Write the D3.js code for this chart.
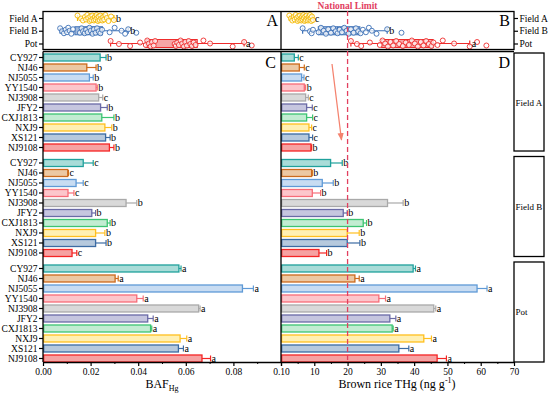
<!DOCTYPE html>
<html>
<head>
<meta charset="utf-8">
<script src="https://cdn.jsdelivr.net/npm/d3@7"></script>
<style>
  body { margin: 0; background: #fff; }
  svg text { font-family: "Liberation Serif", "Times New Roman", serif; }
</style>
</head>
<body>
<svg id="chart"></svg>
<script>
// cultivars and groups
var cultivars = ["CY927", "NJ46", "NJ5055", "YY1540", "NJ3908", "JFY2", "CXJ1813", "NXJ9", "XS121", "NJ9108"];
var groups = ["Field A", "Field B", "Pot"];

// BAF means / sd / letters (panel C)
var bafFieldA = [0.0240, 0.0184, 0.0195, 0.0223, 0.0234, 0.0242, 0.0247, 0.0260, 0.0263, 0.0279];
var bafFieldAErr = [0.0025, 0.0039, 0.0016, 0.0005, 0.0017, 0.0028, 0.0051, 0.0029, 0.0019, 0.0019];
var bafFieldALet = ["b", "b", "b", "b", "c", "b", "b", "b", "b", "b"];
var bafFieldB = [0.0169, 0.0104, 0.0139, 0.0105, 0.0349, 0.0205, 0.0270, 0.0221, 0.0221, 0.0122];
var bafFieldBErr = [0.0042, 0.0003, 0.0030, 0.0025, 0.0045, 0.0016, 0.0012, 0.0039, 0.0044, 0.0020];
var bafFieldBLet = ["c", "c", "c", "c", "b", "b", "b", "b", "b", "c"];
var bafPot = [0.0571, 0.0303, 0.0838, 0.0394, 0.0654, 0.0440, 0.0452, 0.0576, 0.0569, 0.0668];
var bafPotErr = [0.0009, 0.0013, 0.0046, 0.0027, 0.0006, 0.0023, 0.0005, 0.0028, 0.0021, 0.0036];
var bafPotLet = ["a", "a", "a", "a", "a", "a", "a", "a", "a", "a"];

// brown rice THg means / sd / letters (panel D)
var thgFieldA = [4.0, 5.5, 6.2, 7.0, 7.4, 7.7, 7.7, 8.4, 8.4, 9.0];
var thgFieldAErr = [1.2, 1.5, 0.7, 0.4, 0.8, 1.7, 1.8, 0.8, 1.1, 0.2];
var thgFieldALet = ["c", "c", "c", "b", "c", "c", "c", "c", "c", "b"];
var thgFieldB = [14.9, 9.2, 12.4, 9.4, 32.0, 18.7, 24.7, 19.9, 19.9, 11.4];
var thgFieldBErr = [3.5, 0.2, 3.3, 2.5, 4.7, 1.2, 1.0, 3.6, 3.8, 2.3];
var thgFieldBLet = ["b", "b", "b", "b", "b", "b", "b", "b", "b", "b"];
var thgPot = [39.7, 22.2, 58.9, 29.4, 45.9, 32.7, 33.4, 42.9, 35.4, 46.9];
var thgPotErr = [0.7, 1.3, 3.0, 2.0, 0.6, 1.8, 0.3, 2.3, 3.0, 2.8];
var thgPotLet = ["a", "a", "a", "a", "a", "a", "a", "a", "a", "a"];

// box plot stats [min, q1, median, q3, max] (panels A and B)
var bafBoxFieldA = [0.0145, 0.0192, 0.0226, 0.0255, 0.0298];
var bafBoxFieldB = [0.0072, 0.0134, 0.0200, 0.0250, 0.0358];
var bafBoxPot = [0.0284, 0.0433, 0.0560, 0.0648, 0.0845];
var thgBoxFieldA = [2.5, 4.8, 6.5, 8.0, 9.6];
var thgBoxFieldB = [6.5, 11.2, 17.0, 23.7, 31.9];
var thgBoxPot = [21.0, 30.2, 38.0, 45.7, 56.7];
var bafBoxLet = ["b", "b", "a"];
var thgBoxLet = ["c", "b", "a"];

// individual samples
var bafPtsFieldA = [0.0145, 0.0160, 0.0168, 0.0176, 0.0181, 0.0186, 0.0190, 0.0196, 0.0199, 0.0203, 0.0207, 0.0211, 0.0214, 0.0218, 0.0221, 0.0225, 0.0228, 0.0231, 0.0234, 0.0238, 0.0241, 0.0245, 0.0249, 0.0253, 0.0257, 0.0262, 0.0268, 0.0275, 0.0286, 0.0298];
var bafPtsFieldB = [0.0072, 0.0080, 0.0088, 0.0095, 0.0101, 0.0106, 0.0112, 0.0119, 0.0126, 0.0155, 0.0162, 0.0168, 0.0175, 0.0181, 0.0188, 0.0195, 0.0201, 0.0208, 0.0214, 0.0221, 0.0227, 0.0234, 0.0241, 0.0248, 0.0280, 0.0301, 0.0330, 0.0345, 0.0358, 0.0392];
var bafPtsPot = [0.0284, 0.0319, 0.0366, 0.0408, 0.0432, 0.0438, 0.0445, 0.0452, 0.0458, 0.0465, 0.0471, 0.0553, 0.0558, 0.0564, 0.0571, 0.0578, 0.0585, 0.0592, 0.0598, 0.0605, 0.0612, 0.0619, 0.0626, 0.0633, 0.0641, 0.0674, 0.0702, 0.0797, 0.0845, 0.0877];
var thgPtsFieldA = [2.5, 3.0, 3.4, 3.8, 4.1, 4.4, 4.7, 5.0, 5.2, 5.5, 5.7, 5.9, 6.1, 6.3, 6.5, 6.7, 6.9, 7.1, 7.3, 7.5, 7.7, 7.9, 8.1, 8.3, 8.5, 8.7, 8.9, 9.1, 9.3, 9.6];
var thgPtsFieldB = [6.5, 8.7, 9.2, 9.6, 11.3, 12.0, 12.8, 13.5, 14.2, 15.0, 15.7, 16.4, 17.0, 17.6, 18.3, 19.0, 19.7, 20.3, 21.0, 21.8, 22.5, 23.2, 23.9, 24.6, 25.5, 26.4, 27.3, 28.7, 31.9, 36.2];
var thgPtsPot = [21.0, 22.8, 24.1, 26.7, 29.7, 30.5, 31.3, 32.1, 32.9, 33.7, 34.6, 35.5, 36.6, 37.5, 38.4, 39.3, 40.2, 41.1, 42.0, 42.8, 43.6, 44.4, 45.2, 45.8, 47.0, 48.6, 52.0, 56.7, 58.9, 61.7];

// axis ticks
var bafTicks = [0, 0.02, 0.04, 0.06, 0.08, 0.10];
var bafMinor = [0.01, 0.03, 0.05, 0.07, 0.09];
var thgTicks = [0, 10, 20, 30, 40, 50, 60, 70];
var thgMinor = [5, 15, 25, 35, 45, 55, 65];
var nationalLimit = 20;

// colours
var strokeCol = ["#1fa19c", "#cc6a1c", "#5f9ad6", "#f76c78", "#a9a9a9", "#6a6aa6", "#3cc472", "#ffbf1f", "#3b6ba3", "#f42525"];
var fillCol = ["#a9dcd8", "#ecc8a3", "#c8dcf2", "#fcc6cb", "#d9d9d9", "#c6c6df", "#c2ecd2", "#fff0b3", "#b6c9dd", "#f6a2a2"];
var boxStroke = ["#f4b800", "#3b6fb6", "#ee2c2c"];
var boxFill = ["#fbe08a", "#a3badb", "#f5a6a6"];

var FONT = "'Liberation Serif', 'Times New Roman', serif";
var TICK_FS = 9.5;

var W = 550, H = 393;
var svg = d3.select("#chart").attr("width", W).attr("height", H);
svg.append("rect").attr("width", W).attr("height", H).attr("fill", "#fff");

var xL = d3.scaleLinear().domain([0, 0.1]).range([43, 281]);
var xR = d3.scaleLinear().domain([0, 70]).range([281, 514]);
var yTop = d3.scalePoint().domain(groups).range([18, 43.5]);
var yGroup = d3.scaleBand().domain(groups).range([51, 362]).paddingInner(0.052);
var axisBottomY = 362;

function cultScale(g) {
    var g0 = yGroup(g);
    return d3.scaleBand().domain(cultivars).range([g0 + 1.5, g0 + 101.5]).paddingInner(0.3).paddingOuter(0.15);
}

// ---------- bars (panels C, D) ----------
var bafSets = [[bafFieldA, bafFieldAErr, bafFieldALet], [bafFieldB, bafFieldBErr, bafFieldBLet], [bafPot, bafPotErr, bafPotLet]];
var thgSets = [[thgFieldA, thgFieldAErr, thgFieldALet], [thgFieldB, thgFieldBErr, thgFieldBLet], [thgPot, thgPotErr, thgPotLet]];

function drawBars(x, sets) {
    groups.forEach(function(g, gi) {
        var y = cultScale(g);
        var vals = sets[gi][0], errs = sets[gi][1], lets = sets[gi][2];
        var bw = y.bandwidth();
        var grp = svg.append("g");
        cultivars.forEach(function(c, i) {
            var yc = y(c) + bw / 2;
            grp.append("rect")
                .attr("x", x(0) + 0.7)
                .attr("y", y(c))
                .attr("width", x(vals[i]) - x(0) - 0.7)
                .attr("height", bw)
                .attr("fill", fillCol[i])
                .attr("stroke", strokeCol[i])
                .attr("stroke-width", 1.3);
            grp.append("line")
                .attr("x1", x(vals[i])).attr("x2", x(vals[i] + errs[i]))
                .attr("y1", yc).attr("y2", yc)
                .attr("stroke", strokeCol[i]).attr("stroke-width", 1.2);
            grp.append("line")
                .attr("x1", x(vals[i] + errs[i])).attr("x2", x(vals[i] + errs[i]))
                .attr("y1", yc - 3).attr("y2", yc + 3)
                .attr("stroke", strokeCol[i]).attr("stroke-width", 1.2);
            grp.append("text")
                .attr("x", x(vals[i] + errs[i]) + 1)
                .attr("y", yc + 3.5)
                .attr("font-size", 10)
                .text(lets[i]);
        });
    });
}
drawBars(xL, bafSets);
drawBars(xR, thgSets);

// ---------- box plots (panels A, B) ----------
var bafBoxes = [bafBoxFieldA, bafBoxFieldB, bafBoxPot];
var thgBoxes = [thgBoxFieldA, thgBoxFieldB, thgBoxPot];
var bafPts = [bafPtsFieldA, bafPtsFieldB, bafPtsPot];
var thgPts = [thgPtsFieldA, thgPtsFieldB, thgPtsPot];
var jitter = [-2.5, 0.5, 2.5, -1, 1.5, -3, 0, 3, -1.5, 2];

function drawBoxes(x, boxes, pts, lets) {
    groups.forEach(function(g, gi) {
        var yc = yTop(g), b = boxes[gi];
        var grp = svg.append("g");
        grp.append("line").attr("x1", x(b[0])).attr("x2", x(b[4])).attr("y1", yc).attr("y2", yc)
            .attr("stroke", boxStroke[gi]).attr("stroke-width", 1.2);
        [b[0], b[4]].forEach(function(v) {
            grp.append("line").attr("x1", x(v)).attr("x2", x(v)).attr("y1", yc - 3).attr("y2", yc + 3)
                .attr("stroke", boxStroke[gi]).attr("stroke-width", 1.2);
        });
        grp.append("rect").attr("x", x(b[1])).attr("y", yc - 4).attr("width", x(b[3]) - x(b[1])).attr("height", 8)
            .attr("fill", boxFill[gi]).attr("stroke", boxStroke[gi]).attr("stroke-width", 1);
        grp.append("line").attr("x1", x(b[2])).attr("x2", x(b[2])).attr("y1", yc - 4).attr("y2", yc + 4)
            .attr("stroke", boxStroke[gi]).attr("stroke-width", 1);
        grp.selectAll("circle").data(pts[gi]).enter().append("circle")
            .attr("cx", function(d) { return x(d); })
            .attr("cy", function(d, i) { return yc + jitter[i % jitter.length]; })
            .attr("r", 2.5)
            .attr("fill", "#fff")
            .attr("fill-opacity", 0.7)
            .attr("stroke", boxStroke[gi])
            .attr("stroke-width", 0.9);
        grp.append("text").attr("x", x(b[4]) + 2).attr("y", yc + 3.5).attr("font-size", 10).text(lets[gi]);
    });
}
drawBoxes(xL, bafBoxes, bafPts, bafBoxLet);
drawBoxes(xR, thgBoxes, thgPts, thgBoxLet);

// ---------- frames ----------
var frame = svg.append("g").attr("fill", "none").attr("stroke", "#000").attr("stroke-width", 1.3);
frame.append("rect").attr("x", 43).attr("y", 11.5).attr("width", 471).attr("height", 38);
frame.append("line").attr("x1", 281).attr("x2", 281).attr("y1", 11.5).attr("y2", 49.5);
frame.append("line").attr("x1", 43).attr("x2", 514).attr("y1", 51.5).attr("y2", 51.5);
frame.append("line").attr("x1", 281).attr("x2", 281).attr("y1", 51.5).attr("y2", axisBottomY);
frame.append("line").attr("x1", 43).attr("x2", 43).attr("y1", 51.5).attr("y2", axisBottomY);

function styleTicks(a) {
    a.selectAll("line").attr("stroke-width", 1.2);
    a.selectAll("text").attr("font-size", TICK_FS).attr("fill", "#000").style("font-family", FONT);
}

// top panel y axes
var topAxisL = svg.append("g").attr("transform", "translate(43,0)")
    .call(d3.axisLeft(yTop).tickSize(4).tickPadding(1.5).tickSizeOuter(0));
var topAxisR = svg.append("g").attr("transform", "translate(514,0)")
    .call(d3.axisRight(yTop).tickSize(4).tickPadding(1.5).tickSizeOuter(0));
[topAxisL, topAxisR].forEach(function(a) {
    a.select(".domain").remove();
    styleTicks(a);
});

// bottom panel y axes (cultivars per group)
groups.forEach(function(g) {
    var a = svg.append("g").attr("transform", "translate(43,0)")
        .call(d3.axisLeft(cultScale(g)).tickSize(4).tickPadding(1.5).tickSizeOuter(0));
    a.select(".domain").remove();
    styleTicks(a);
});

// x axes
var axL = svg.append("g").attr("transform", "translate(0," + axisBottomY + ")")
    .call(d3.axisBottom(xL).tickValues(bafTicks).tickFormat(d3.format(".2f")).tickSize(4).tickPadding(2).tickSizeOuter(0));
axL.select(".domain").attr("stroke-width", 1.3);
styleTicks(axL);
var axR = svg.append("g").attr("transform", "translate(0," + axisBottomY + ")")
    .call(d3.axisBottom(xR).tickValues(thgTicks).tickFormat(function(d) { return d === 0 ? "" : d; }).tickSize(4).tickPadding(2).tickSizeOuter(0));
axR.select(".domain").attr("stroke-width", 1.3);
styleTicks(axR);
svg.append("g").attr("transform", "translate(0," + axisBottomY + ")")
    .call(d3.axisBottom(xL).tickValues(bafMinor).tickFormat("").tickSize(2).tickSizeOuter(0))
    .call(function(a) { a.select(".domain").remove(); a.selectAll("line").attr("stroke-width", 1); });
svg.append("g").attr("transform", "translate(0," + axisBottomY + ")")
    .call(d3.axisBottom(xR).tickValues(thgMinor).tickFormat("").tickSize(2).tickSizeOuter(0))
    .call(function(a) { a.select(".domain").remove(); a.selectAll("line").attr("stroke-width", 1); });

// axis titles
var t1 = svg.append("text").attr("x", 162).attr("y", 388).attr("text-anchor", "middle").attr("font-size", 12);
t1.append("tspan").text("BAF");
t1.append("tspan").attr("font-size", 8).attr("dy", 3).text("Hg");
var t2 = svg.append("text").attr("x", 397).attr("y", 388).attr("text-anchor", "middle").attr("font-size", 12);
t2.append("tspan").text("Brown rice THg (ng g");
t2.append("tspan").attr("font-size", 8).attr("dy", -5).text("-1");
t2.append("tspan").attr("dy", 5).text(")");

// facet strips
groups.forEach(function(g, gi) {
    var y0 = Math.max(yGroup(g), 53), y1 = yGroup(g) + yGroup.bandwidth();
    svg.append("rect").attr("x", 514).attr("y", y0).attr("width", 30).attr("height", y1 - y0)
        .attr("fill", "#fff").attr("stroke", "#000").attr("stroke-width", 1.3);
    svg.append("text").attr("x", 515.5).attr("y", (y0 + y1) / 2 + 3.5).attr("font-size", 9).text(g);
});

// panel letters
[["A", 278, 26], ["B", 510, 26], ["C", 276, 68], ["D", 510, 68]].forEach(function(p) {
    svg.append("text").attr("x", p[1]).attr("y", p[2]).attr("text-anchor", "end").attr("font-size", 16).text(p[0]);
});

// national limit
svg.append("line").attr("x1", xR(nationalLimit)).attr("x2", xR(nationalLimit)).attr("y1", 11).attr("y2", axisBottomY)
    .attr("stroke", "#e2405f").attr("stroke-width", 1.3).attr("stroke-dasharray", "5,3");
svg.append("text").attr("x", xR(nationalLimit)).attr("y", 8.5).attr("text-anchor", "middle")
    .attr("font-size", 9.5).attr("font-weight", "bold").attr("fill", "#e2405f").text("National Limit");

// arrow
svg.append("defs").append("marker").attr("id", "ah").attr("viewBox", "0 0 10 10").attr("refX", 9).attr("refY", 5)
    .attr("markerWidth", 6).attr("markerHeight", 8).attr("orient", "auto")
    .append("path").attr("d", "M0,1 L10,5 L0,9 Z").attr("fill", "#f4826e");
svg.append("line").attr("x1", 332).attr("y1", 64).attr("x2", 341.5).attr("y2", 140)
    .attr("stroke", "#f4826e").attr("stroke-width", 1.3).attr("marker-end", "url(#ah)");
</script>
</body>
</html>
